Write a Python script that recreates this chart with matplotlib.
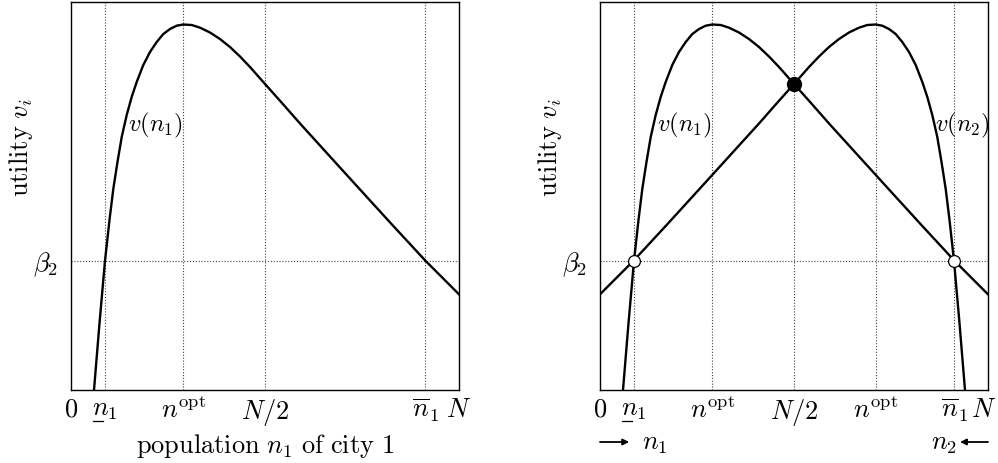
import matplotlib
matplotlib.use("Agg")
import matplotlib.pyplot as plt
import matplotlib.transforms as mtransforms
from matplotlib.lines import Line2D
import numpy as np

plt.rcParams['mathtext.fontset'] = 'cm'
plt.rcParams['font.family'] = ['DejaVu Serif']

# ---- data (population as fraction of N, utility in arbitrary units) ----
n_vals = [0.0593, 0.0735, 0.0876, 0.0992, 0.1090, 0.1198, 0.1307, 0.1436, 0.1564,
          0.1693, 0.1863, 0.2036, 0.2209, 0.2379, 0.2552, 0.2724, 0.2894, 0.3111,
          0.3325, 0.3582, 0.3840, 0.4098, 0.4356, 0.4613, 0.5000, 0.5387, 0.5902,
          0.6675, 0.7448, 0.8307, 0.9142, 1.0000]
v_vals = [0.0000, 0.1727, 0.3325, 0.4381, 0.5180, 0.5876, 0.6521, 0.7088, 0.7552,
          0.7938, 0.8376, 0.8711, 0.8969, 0.9175, 0.9304, 0.9389, 0.9420, 0.9407,
          0.9338, 0.9214, 0.9046, 0.8840, 0.8595, 0.8325, 0.7887, 0.7454, 0.6869,
          0.6018, 0.5168, 0.4227, 0.3325, 0.2466]

N = 1.0
n_low = 0.0876
n_opt = 0.2894
n_high = 0.9124
beta2 = 0.3325
v_half = 0.7887

left_ticks = [0, n_low, n_opt, N / 2, n_high, N]
left_labels = [r"$0$", r"$n_1$", r"$n^{\mathrm{opt}}$", r"$N/2$", r"$\overline{n}_1$", r"$N$"]
right_ticks = [0, n_low, n_opt, N / 2, N - n_opt, n_high, N]
right_labels = [r"$0$", r"$n_1$", r"$n^{\mathrm{opt}}$", r"$N/2$", r"$n^{\mathrm{opt}}$",
                r"$\overline{n}_1$", r"$N$"]

FS = 19
FS_CURVE = 17.5

fig = plt.figure(figsize=(9.98, 4.63), dpi=100)
W, H = 998.0, 463.0
ax1 = fig.add_axes([71 / W, (H - 390) / H, 388 / W, 388 / H])
ax2 = fig.add_axes([600 / W, (H - 390) / H, 388 / W, 388 / H])

n_arr = np.array(n_vals)
v_arr = np.array(v_vals)

GRID_KW = dict(color='#444444', lw=0.8, ls=(0, (1, 1.6)), zorder=1)


def setup(ax, ticks, labels, grid_x):
    ax.set_xlim(0, N)
    ax.set_ylim(0, 1)
    ax.set_xticks(ticks)
    ax.set_xticklabels(labels, fontsize=FS)
    ax.set_yticks([beta2])
    ax.set_yticklabels([r"$\beta_2$"], fontsize=FS)
    ax.tick_params(axis='x', length=0, pad=5)
    ax.tick_params(axis='y', length=0, pad=9)
    for s in ax.spines.values():
        s.set_linewidth(1.0)
        s.set_color('black')
    for gx in grid_x:
        ax.axvline(gx, **GRID_KW)
    ax.axhline(beta2, **GRID_KW)
    ax.set_ylabel(r"$\mathrm{utility}\ v_i$", fontsize=FS)
    ax.yaxis.set_label_coords(-0.093, 0.624)


setup(ax1, left_ticks, left_labels, [n_low, n_opt, N / 2, n_high])
setup(ax2, right_ticks, right_labels, [n_low, n_opt, N / 2, N - n_opt, n_high])

# nudge the last right-panel tick label slightly inward so it stays on the canvas
lastlab = ax2.get_xticklabels()[-1]
lastlab.set_transform(lastlab.get_transform() +
                      mtransforms.ScaledTranslation(-4 / 100, 0, fig.dpi_scale_trans))

LINE_KW = dict(color='black', lw=1.7, solid_joinstyle='round', zorder=3)

ax1.plot(n_arr, v_arr, **LINE_KW)
ax1.text(0.146, 0.683, r"$v(n_1)$", fontsize=FS_CURVE, ha='left', va='center', zorder=4)

ax2.plot(n_arr, v_arr, **LINE_KW)
ax2.plot(N - n_arr, v_arr, **LINE_KW)
ax2.text(0.146, 0.683, r"$v(n_1)$", fontsize=FS_CURVE, ha='left', va='center', zorder=4)
ax2.text(0.863, 0.683, r"$v(n_2)$", fontsize=FS_CURVE, ha='left', va='center', zorder=4)

ax2.plot([n_low, n_high], [beta2, beta2], 'o', ms=8.5, mfc='white', mec='black', mew=0.9, zorder=5)
ax2.plot([N / 2], [v_half], 'o', ms=10, color='black', zorder=5)

ax1.set_xlabel(r"$\mathrm{population}\ n_1\ \mathrm{of\ city\ 1}$", fontsize=FS, labelpad=3)

# direction arrows under the right panel
ARW = dict(arrowstyle='-|>', color='black', lw=1.3, mutation_scale=9, shrinkA=0, shrinkB=0)
ax2.annotate("", xy=(0.075, -0.134), xytext=(0.0, -0.134), xycoords='axes fraction',
             arrowprops=ARW)
ax2.text(0.108, -0.138, r"$n_1$", transform=ax2.transAxes, fontsize=FS, ha='left', va='center')
ax2.annotate("", xy=(0.928, -0.134), xytext=(1.0, -0.134), xycoords='axes fraction',
             arrowprops=ARW)
ax2.text(0.920, -0.138, r"$n_2$", transform=ax2.transAxes, fontsize=FS, ha='right', va='center')

# underline under the "n" of the lower-bound tick labels
fig.canvas.draw()
for ax in (ax1, ax2):
    lab = ax.get_xticklabels()[1]
    bb = lab.get_window_extent()
    x0 = bb.x0 + 0.5
    x1 = bb.x0 + 0.44 * bb.width
    y = bb.y0 + 1.0
    fig.add_artist(Line2D([x0 / W, x1 / W], [y / H, y / H],
                          transform=fig.transFigure, color='black', lw=0.9))

fig.savefig("out.png", dpi=100)
